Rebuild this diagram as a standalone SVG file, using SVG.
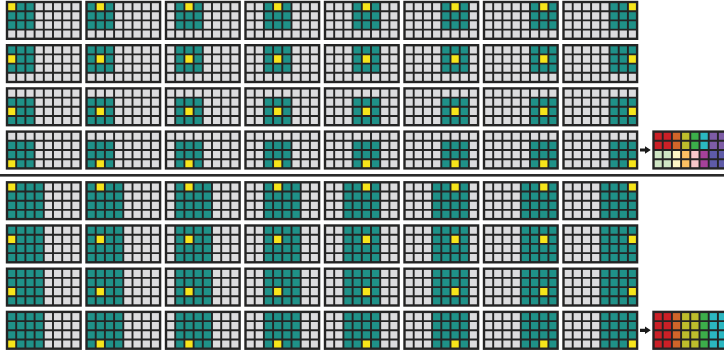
<svg xmlns="http://www.w3.org/2000/svg" xmlns:xlink="http://www.w3.org/1999/xlink" width="724" height="354" viewBox="0 0 724 354">
<style>
.bg{fill:#dcdcde}
.tl{fill:#1f9188}
.yl{fill:#f7e51b}
.ln{fill:none;stroke:#242424;stroke-width:1.9}
.ol{fill:none;stroke:#242424;stroke-width:2.4}
.sep{fill:#2a2a2a}
.arr{fill:#1a1a1a}
</style>
<defs>
<g id="lines">
<path class="ln" d="M9.2,0V36.8M18.4,0V36.8M27.6,0V36.8M36.8,0V36.8M46,0V36.8M55.2,0V36.8M64.4,0V36.8M0,9.2H73.6M0,18.4H73.6M0,27.6H73.6"/>
<rect class="ol" x="0" y="0" width="73.6" height="36.8"/>
</g>
<rect id="bgr" class="bg" width="73.6" height="36.8"/>
<rect id="t3" class="tl" width="27.6" height="27.6"/>
<rect id="t4" class="tl" width="36.8" height="36.8"/>
<rect id="y" class="yl" width="9.2" height="9.2"/>
</defs>
<rect width="724" height="354" fill="#ffffff"/>

<!-- top section: 3x3 window -->
<g id="a-r0-c0" transform="translate(7,2)"><use href="#bgr"/><use href="#t3" x="0" y="0"/><use href="#y" x="0" y="0"/><use href="#lines"/></g>
<g id="a-r0-c1" transform="translate(86.5,2)"><use href="#bgr"/><use href="#t3" x="0" y="0"/><use href="#y" x="9.2" y="0"/><use href="#lines"/></g>
<g id="a-r0-c2" transform="translate(166,2)"><use href="#bgr"/><use href="#t3" x="9.2" y="0"/><use href="#y" x="18.4" y="0"/><use href="#lines"/></g>
<g id="a-r0-c3" transform="translate(245.5,2)"><use href="#bgr"/><use href="#t3" x="18.4" y="0"/><use href="#y" x="27.6" y="0"/><use href="#lines"/></g>
<g id="a-r0-c4" transform="translate(325,2)"><use href="#bgr"/><use href="#t3" x="27.6" y="0"/><use href="#y" x="36.8" y="0"/><use href="#lines"/></g>
<g id="a-r0-c5" transform="translate(404.5,2)"><use href="#bgr"/><use href="#t3" x="36.8" y="0"/><use href="#y" x="46" y="0"/><use href="#lines"/></g>
<g id="a-r0-c6" transform="translate(484,2)"><use href="#bgr"/><use href="#t3" x="46" y="0"/><use href="#y" x="55.2" y="0"/><use href="#lines"/></g>
<g id="a-r0-c7" transform="translate(563.5,2)"><use href="#bgr"/><use href="#t3" x="46" y="0"/><use href="#y" x="64.4" y="0"/><use href="#lines"/></g>

<g id="a-r1-c0" transform="translate(7,45.2)"><use href="#bgr"/><use href="#t3" x="0" y="0"/><use href="#y" x="0" y="9.2"/><use href="#lines"/></g>
<g id="a-r1-c1" transform="translate(86.5,45.2)"><use href="#bgr"/><use href="#t3" x="0" y="0"/><use href="#y" x="9.2" y="9.2"/><use href="#lines"/></g>
<g id="a-r1-c2" transform="translate(166,45.2)"><use href="#bgr"/><use href="#t3" x="9.2" y="0"/><use href="#y" x="18.4" y="9.2"/><use href="#lines"/></g>
<g id="a-r1-c3" transform="translate(245.5,45.2)"><use href="#bgr"/><use href="#t3" x="18.4" y="0"/><use href="#y" x="27.6" y="9.2"/><use href="#lines"/></g>
<g id="a-r1-c4" transform="translate(325,45.2)"><use href="#bgr"/><use href="#t3" x="27.6" y="0"/><use href="#y" x="36.8" y="9.2"/><use href="#lines"/></g>
<g id="a-r1-c5" transform="translate(404.5,45.2)"><use href="#bgr"/><use href="#t3" x="36.8" y="0"/><use href="#y" x="46" y="9.2"/><use href="#lines"/></g>
<g id="a-r1-c6" transform="translate(484,45.2)"><use href="#bgr"/><use href="#t3" x="46" y="0"/><use href="#y" x="55.2" y="9.2"/><use href="#lines"/></g>
<g id="a-r1-c7" transform="translate(563.5,45.2)"><use href="#bgr"/><use href="#t3" x="46" y="0"/><use href="#y" x="64.4" y="9.2"/><use href="#lines"/></g>

<g id="a-r2-c0" transform="translate(7,88.4)"><use href="#bgr"/><use href="#t3" x="0" y="9.2"/><use href="#y" x="0" y="18.4"/><use href="#lines"/></g>
<g id="a-r2-c1" transform="translate(86.5,88.4)"><use href="#bgr"/><use href="#t3" x="0" y="9.2"/><use href="#y" x="9.2" y="18.4"/><use href="#lines"/></g>
<g id="a-r2-c2" transform="translate(166,88.4)"><use href="#bgr"/><use href="#t3" x="9.2" y="9.2"/><use href="#y" x="18.4" y="18.4"/><use href="#lines"/></g>
<g id="a-r2-c3" transform="translate(245.5,88.4)"><use href="#bgr"/><use href="#t3" x="18.4" y="9.2"/><use href="#y" x="27.6" y="18.4"/><use href="#lines"/></g>
<g id="a-r2-c4" transform="translate(325,88.4)"><use href="#bgr"/><use href="#t3" x="27.6" y="9.2"/><use href="#y" x="36.8" y="18.4"/><use href="#lines"/></g>
<g id="a-r2-c5" transform="translate(404.5,88.4)"><use href="#bgr"/><use href="#t3" x="36.8" y="9.2"/><use href="#y" x="46" y="18.4"/><use href="#lines"/></g>
<g id="a-r2-c6" transform="translate(484,88.4)"><use href="#bgr"/><use href="#t3" x="46" y="9.2"/><use href="#y" x="55.2" y="18.4"/><use href="#lines"/></g>
<g id="a-r2-c7" transform="translate(563.5,88.4)"><use href="#bgr"/><use href="#t3" x="46" y="9.2"/><use href="#y" x="64.4" y="18.4"/><use href="#lines"/></g>

<g id="a-r3-c0" transform="translate(7,131.6)"><use href="#bgr"/><use href="#t3" x="0" y="9.2"/><use href="#y" x="0" y="27.6"/><use href="#lines"/></g>
<g id="a-r3-c1" transform="translate(86.5,131.6)"><use href="#bgr"/><use href="#t3" x="0" y="9.2"/><use href="#y" x="9.2" y="27.6"/><use href="#lines"/></g>
<g id="a-r3-c2" transform="translate(166,131.6)"><use href="#bgr"/><use href="#t3" x="9.2" y="9.2"/><use href="#y" x="18.4" y="27.6"/><use href="#lines"/></g>
<g id="a-r3-c3" transform="translate(245.5,131.6)"><use href="#bgr"/><use href="#t3" x="18.4" y="9.2"/><use href="#y" x="27.6" y="27.6"/><use href="#lines"/></g>
<g id="a-r3-c4" transform="translate(325,131.6)"><use href="#bgr"/><use href="#t3" x="27.6" y="9.2"/><use href="#y" x="36.8" y="27.6"/><use href="#lines"/></g>
<g id="a-r3-c5" transform="translate(404.5,131.6)"><use href="#bgr"/><use href="#t3" x="36.8" y="9.2"/><use href="#y" x="46" y="27.6"/><use href="#lines"/></g>
<g id="a-r3-c6" transform="translate(484,131.6)"><use href="#bgr"/><use href="#t3" x="46" y="9.2"/><use href="#y" x="55.2" y="27.6"/><use href="#lines"/></g>
<g id="a-r3-c7" transform="translate(563.5,131.6)"><use href="#bgr"/><use href="#t3" x="46" y="9.2"/><use href="#y" x="64.4" y="27.6"/><use href="#lines"/></g>

<!-- top output grid -->
<g id="a-out" transform="translate(653.5,131.6)">
<rect x="0" y="0" width="18.4" height="18.4" fill="#cb2027"/>
<rect x="18.4" y="0" width="9.2" height="18.4" fill="#d0652a"/>
<rect x="27.6" y="0" width="9.2" height="18.4" fill="#bdbd2c"/>
<rect x="36.8" y="0" width="9.2" height="18.4" fill="#3cae4a"/>
<rect x="46" y="0" width="9.2" height="18.4" fill="#2bb7c1"/>
<rect x="55.2" y="0" width="18.4" height="18.4" fill="#7d5ca6"/>
<rect x="0" y="18.4" width="18.4" height="18.4" fill="#cfe5c4"/>
<rect x="18.4" y="18.4" width="9.2" height="18.4" fill="#fdf6c6"/>
<rect x="27.6" y="18.4" width="9.2" height="18.4" fill="#fcc063"/>
<rect x="36.8" y="18.4" width="9.2" height="18.4" fill="#f7c7ca"/>
<rect x="46" y="18.4" width="9.2" height="18.4" fill="#a6419a"/>
<rect x="55.2" y="18.4" width="18.4" height="18.4" fill="#5e5ba8"/>
<use href="#lines"/>
</g>

<rect class="sep" x="0" y="174" width="724" height="2.6"/>

<!-- bottom section: 4x4 window -->
<g id="b-r0-c0" transform="translate(7,182.3)"><use href="#bgr"/><use href="#t4" x="0"/><use href="#y" x="0" y="0"/><use href="#lines"/></g>
<g id="b-r0-c1" transform="translate(86.5,182.3)"><use href="#bgr"/><use href="#t4" x="0"/><use href="#y" x="9.2" y="0"/><use href="#lines"/></g>
<g id="b-r0-c2" transform="translate(166,182.3)"><use href="#bgr"/><use href="#t4" x="9.2"/><use href="#y" x="18.4" y="0"/><use href="#lines"/></g>
<g id="b-r0-c3" transform="translate(245.5,182.3)"><use href="#bgr"/><use href="#t4" x="18.4"/><use href="#y" x="27.6" y="0"/><use href="#lines"/></g>
<g id="b-r0-c4" transform="translate(325,182.3)"><use href="#bgr"/><use href="#t4" x="18.4"/><use href="#y" x="36.8" y="0"/><use href="#lines"/></g>
<g id="b-r0-c5" transform="translate(404.5,182.3)"><use href="#bgr"/><use href="#t4" x="27.6"/><use href="#y" x="46" y="0"/><use href="#lines"/></g>
<g id="b-r0-c6" transform="translate(484,182.3)"><use href="#bgr"/><use href="#t4" x="36.8"/><use href="#y" x="55.2" y="0"/><use href="#lines"/></g>
<g id="b-r0-c7" transform="translate(563.5,182.3)"><use href="#bgr"/><use href="#t4" x="36.8"/><use href="#y" x="64.4" y="0"/><use href="#lines"/></g>

<g id="b-r1-c0" transform="translate(7,225.5)"><use href="#bgr"/><use href="#t4" x="0"/><use href="#y" x="0" y="9.2"/><use href="#lines"/></g>
<g id="b-r1-c1" transform="translate(86.5,225.5)"><use href="#bgr"/><use href="#t4" x="0"/><use href="#y" x="9.2" y="9.2"/><use href="#lines"/></g>
<g id="b-r1-c2" transform="translate(166,225.5)"><use href="#bgr"/><use href="#t4" x="9.2"/><use href="#y" x="18.4" y="9.2"/><use href="#lines"/></g>
<g id="b-r1-c3" transform="translate(245.5,225.5)"><use href="#bgr"/><use href="#t4" x="18.4"/><use href="#y" x="27.6" y="9.2"/><use href="#lines"/></g>
<g id="b-r1-c4" transform="translate(325,225.5)"><use href="#bgr"/><use href="#t4" x="18.4"/><use href="#y" x="36.8" y="9.2"/><use href="#lines"/></g>
<g id="b-r1-c5" transform="translate(404.5,225.5)"><use href="#bgr"/><use href="#t4" x="27.6"/><use href="#y" x="46" y="9.2"/><use href="#lines"/></g>
<g id="b-r1-c6" transform="translate(484,225.5)"><use href="#bgr"/><use href="#t4" x="36.8"/><use href="#y" x="55.2" y="9.2"/><use href="#lines"/></g>
<g id="b-r1-c7" transform="translate(563.5,225.5)"><use href="#bgr"/><use href="#t4" x="36.8"/><use href="#y" x="64.4" y="9.2"/><use href="#lines"/></g>

<g id="b-r2-c0" transform="translate(7,268.7)"><use href="#bgr"/><use href="#t4" x="0"/><use href="#y" x="0" y="18.4"/><use href="#lines"/></g>
<g id="b-r2-c1" transform="translate(86.5,268.7)"><use href="#bgr"/><use href="#t4" x="0"/><use href="#y" x="9.2" y="18.4"/><use href="#lines"/></g>
<g id="b-r2-c2" transform="translate(166,268.7)"><use href="#bgr"/><use href="#t4" x="9.2"/><use href="#y" x="18.4" y="18.4"/><use href="#lines"/></g>
<g id="b-r2-c3" transform="translate(245.5,268.7)"><use href="#bgr"/><use href="#t4" x="18.4"/><use href="#y" x="27.6" y="18.4"/><use href="#lines"/></g>
<g id="b-r2-c4" transform="translate(325,268.7)"><use href="#bgr"/><use href="#t4" x="18.4"/><use href="#y" x="36.8" y="18.4"/><use href="#lines"/></g>
<g id="b-r2-c5" transform="translate(404.5,268.7)"><use href="#bgr"/><use href="#t4" x="27.6"/><use href="#y" x="46" y="18.4"/><use href="#lines"/></g>
<g id="b-r2-c6" transform="translate(484,268.7)"><use href="#bgr"/><use href="#t4" x="36.8"/><use href="#y" x="55.2" y="18.4"/><use href="#lines"/></g>
<g id="b-r2-c7" transform="translate(563.5,268.7)"><use href="#bgr"/><use href="#t4" x="36.8"/><use href="#y" x="64.4" y="18.4"/><use href="#lines"/></g>

<g id="b-r3-c0" transform="translate(7,311.9)"><use href="#bgr"/><use href="#t4" x="0"/><use href="#y" x="0" y="27.6"/><use href="#lines"/></g>
<g id="b-r3-c1" transform="translate(86.5,311.9)"><use href="#bgr"/><use href="#t4" x="0"/><use href="#y" x="9.2" y="27.6"/><use href="#lines"/></g>
<g id="b-r3-c2" transform="translate(166,311.9)"><use href="#bgr"/><use href="#t4" x="9.2"/><use href="#y" x="18.4" y="27.6"/><use href="#lines"/></g>
<g id="b-r3-c3" transform="translate(245.5,311.9)"><use href="#bgr"/><use href="#t4" x="18.4"/><use href="#y" x="27.6" y="27.6"/><use href="#lines"/></g>
<g id="b-r3-c4" transform="translate(325,311.9)"><use href="#bgr"/><use href="#t4" x="18.4"/><use href="#y" x="36.8" y="27.6"/><use href="#lines"/></g>
<g id="b-r3-c5" transform="translate(404.5,311.9)"><use href="#bgr"/><use href="#t4" x="27.6"/><use href="#y" x="46" y="27.6"/><use href="#lines"/></g>
<g id="b-r3-c6" transform="translate(484,311.9)"><use href="#bgr"/><use href="#t4" x="36.8"/><use href="#y" x="55.2" y="27.6"/><use href="#lines"/></g>
<g id="b-r3-c7" transform="translate(563.5,311.9)"><use href="#bgr"/><use href="#t4" x="36.8"/><use href="#y" x="64.4" y="27.6"/><use href="#lines"/></g>

<!-- bottom output grid -->
<g id="b-out" transform="translate(653.5,311.9)">
<rect x="0" y="0" width="18.4" height="36.8" fill="#cb2027"/>
<rect x="18.4" y="0" width="9.2" height="36.8" fill="#d0652a"/>
<rect x="27.6" y="0" width="18.4" height="36.8" fill="#bdbd2c"/>
<rect x="46" y="0" width="9.2" height="36.8" fill="#3cae4a"/>
<rect x="55.2" y="0" width="18.4" height="36.8" fill="#2bb7c1"/>
<use href="#lines"/>
</g>

<!-- connectors -->
<g id="connectors">
<path class="arr" d="M640,148.4H645V146.2L650.8,150L645,153.8V151.6H640Z"/>
<path class="arr" d="M640,328.7H645V326.5L650.8,330.3L645,334.1V331.9H640Z"/>
</g>
</svg>
